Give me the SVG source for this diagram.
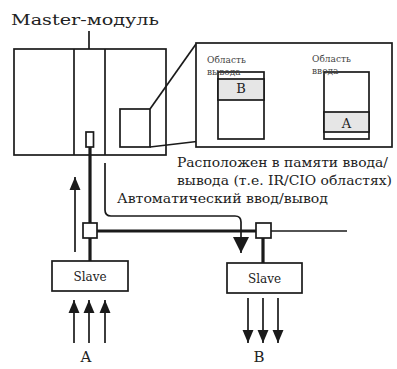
<svg xmlns="http://www.w3.org/2000/svg" width="397" height="369" viewBox="0 0 397 369">
<defs>
<style>
.t{font-family:"DejaVu Serif","Liberation Serif",serif;fill:#222}
.s{fill:none;stroke:#1a1a1a;stroke-width:1.7}
.k{fill:none;stroke:#1a1a1a;stroke-width:3.2}
.b{fill:#fff;stroke:#1a1a1a;stroke-width:1.7}
.g{fill:#e6e6e6;stroke:#1a1a1a;stroke-width:1.7}
.sm{font-family:"DejaVu Serif","Liberation Serif",serif;fill:#444;font-size:9px}
</style>
<marker id="ahL" viewBox="0 0 10 10" refX="10" refY="5" markerWidth="16" markerHeight="16" markerUnits="userSpaceOnUse" orient="auto">
<path d="M0,0 L10,5 L0,10 Z" fill="#1a1a1a"/>
</marker>
<marker id="ahM" viewBox="0 0 10 10" refX="10" refY="5" markerWidth="13" markerHeight="13" markerUnits="userSpaceOnUse" orient="auto">
<path d="M0,0.8 L10,5 L0,9.2 Z" fill="#1a1a1a"/>
</marker>
</defs>
<rect width="397" height="369" fill="#fff"/>

<g id="master">
<text class="t" x="11" y="25" font-size="15" textLength="148" lengthAdjust="spacingAndGlyphs">Master-модуль</text>
<line class="s" x1="89" y1="31" x2="89" y2="63"/>
<rect class="b" x="14" y="49" width="152" height="106"/>
<line class="s" x1="74" y1="49" x2="74" y2="155"/>
<line class="s" x1="105" y1="49" x2="105" y2="155"/>
<rect class="b" x="86" y="132" width="7.5" height="15"/>
<rect class="b" x="120" y="109" width="30" height="38"/>
</g>

<g id="memory">
<line class="s" x1="150" y1="109" x2="196" y2="44"/>
<line class="s" x1="150" y1="147" x2="218" y2="139"/>
<rect class="b" x="196" y="43" width="196" height="104" fill="none"/>
</g>

<g id="out-area">
<rect class="b" x="218" y="72" width="46" height="67"/>
<rect class="g" x="218" y="79" width="46" height="21"/>
<text class="sm" x="207" y="63">Область</text>
<text class="sm" x="207" y="75">вывода</text>
<text class="t" x="241" y="93" font-size="13" text-anchor="middle">B</text>
</g>

<g id="in-area">
<rect class="b" x="324" y="72" width="45" height="67"/>
<rect class="g" x="324" y="112" width="45" height="20"/>
<text class="sm" x="312" y="62">Область</text>
<text class="sm" x="312" y="74">ввода</text>
<text class="t" x="346.5" y="128" font-size="13" text-anchor="middle">A</text>
</g>

<g id="caption">
<text class="t" x="177" y="167" font-size="13" textLength="211" lengthAdjust="spacingAndGlyphs">Расположен в памяти ввода/</text>
<text class="t" x="177" y="185" font-size="13" textLength="215" lengthAdjust="spacingAndGlyphs">вывода (т.е. IR/CIO областях)</text>
<text class="t" x="117" y="203" font-size="13" textLength="211" lengthAdjust="spacingAndGlyphs">Автоматический ввод/вывод</text>
</g>

<g id="connectors">
<line class="k" x1="90" y1="147" x2="90" y2="223"/>
<line class="k" x1="90" y1="238" x2="90" y2="261"/>
<line class="k" x1="97" y1="231" x2="256" y2="231"/>
<line class="s" x1="271" y1="231" x2="347" y2="231"/>
<line class="k" x1="263" y1="238" x2="263" y2="263"/>
<line class="s" x1="75" y1="252" x2="75" y2="177" marker-end="url(#ahM)"/>
<path class="s" d="M105,163 V210 Q105,216 111,216 H235 Q241,216 241,222 V253" marker-end="url(#ahL)"/>
<line class="s" x1="74" y1="343" x2="74" y2="300" marker-end="url(#ahM)"/>
<line class="s" x1="89" y1="343" x2="89" y2="300" marker-end="url(#ahM)"/>
<line class="s" x1="105" y1="343" x2="105" y2="300" marker-end="url(#ahM)"/>
<line class="s" x1="248" y1="298" x2="248" y2="343" marker-end="url(#ahM)"/>
<line class="s" x1="263" y1="298" x2="263" y2="343" marker-end="url(#ahM)"/>
<line class="s" x1="278" y1="298" x2="278" y2="343" marker-end="url(#ahM)"/>
</g>

<g id="tap1">
<rect class="b" x="83" y="223" width="14" height="15"/>
</g>
<g id="tap2">
<rect class="b" x="256" y="223" width="15" height="15"/>
</g>

<g id="slave1">
<rect class="b" x="52" y="261" width="76" height="30"/>
<text class="t" x="90" y="281" font-size="12" text-anchor="middle">Slave</text>
</g>
<g id="slave2">
<rect class="b" x="227" y="263" width="75" height="30"/>
<text class="t" x="264.5" y="283" font-size="12" text-anchor="middle">Slave</text>
</g>

<g id="labels">
<text class="t" x="86" y="362" font-size="15" text-anchor="middle">A</text>
<text class="t" x="259" y="362" font-size="15" text-anchor="middle">B</text>
</g>
</svg>
